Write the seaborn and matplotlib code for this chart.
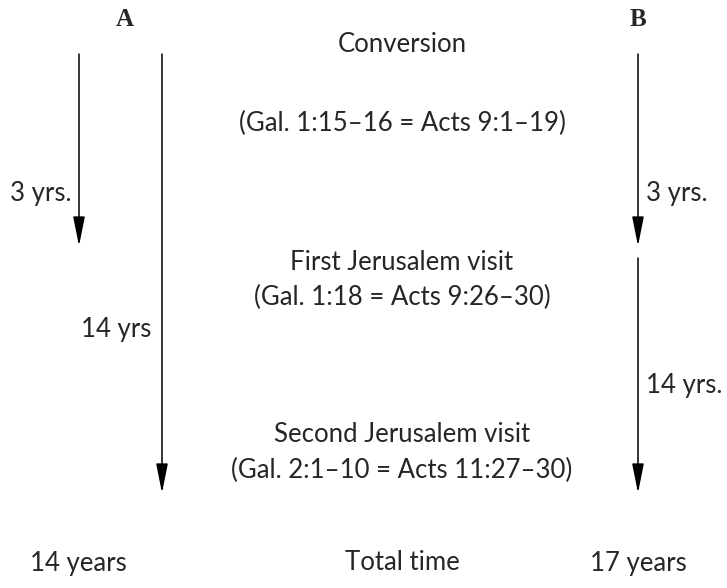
import matplotlib
matplotlib.use("Agg")
import matplotlib.pyplot as plt
import seaborn as sns

# chronology columns
columns = ["A", "B"]
totals = ["14 years", "17 years"]
centre_total = "Total time"

# events in the middle column
events = ["Conversion", "First Jerusalem visit", "Second Jerusalem visit"]
refs = ["(Gal. 1:15\u201316 = Acts 9:1\u201319)",
        "(Gal. 1:18 = Acts 9:26\u201330)",
        "(Gal. 2:1\u201310 = Acts 11:27\u201330)"]

# intervals per column
a_intervals = ["3 yrs.", "14 yrs"]
b_intervals = ["3 yrs.", "14 yrs."]

sns.set_theme(style="white")
plt.rcParams['font.family'] = ['Lato', 'DejaVu Sans']

fig = plt.figure(figsize=(7.27, 5.88), dpi=100)
ax = fig.add_axes([0, 0, 1, 1])
ax.set_xlim(0, 727)
ax.set_ylim(588, 0)
ax.axis("off")

fs = 18.5
col_x = {"A": 125, "B": 638}
for c in columns:
    ax.text(col_x[c], 20, c, ha="center", va="center", fontsize=18,
            fontweight="bold", family=["Liberation Serif"])

arrow = dict(arrowstyle="-|>,head_length=0.9,head_width=0.18", color="black",
             lw=1.1, shrinkA=0, shrinkB=0, mutation_scale=20)


def draw_arrow(x, y0, y1):
    ax.annotate("", xy=(x, y1), xytext=(x, y0), arrowprops=arrow)


# column A
draw_arrow(79, 54, 246)
ax.text(71, 193, a_intervals[0], ha="right", va="center", fontsize=fs)
draw_arrow(162, 54, 493)
ax.text(151, 330, a_intervals[1], ha="right", va="center", fontsize=fs)

# column B
draw_arrow(638, 54, 246)
ax.text(646, 193, b_intervals[0], ha="left", va="center", fontsize=fs)
draw_arrow(638, 258, 493)
ax.text(646, 386, b_intervals[1], ha="left", va="center", fontsize=fs)

# middle column
cx = 402
event_y = [44, 262, 435]
ref_y = [123, 297, 470]
for name, ref, ey, ry in zip(events, refs, event_y, ref_y):
    ax.text(cx, ey, name, ha="center", va="center", fontsize=fs)
    ax.text(cx, ry, ref, ha="center", va="center", fontsize=fs)

# totals
ax.text(78, 563, totals[0], ha="center", va="center", fontsize=fs)
ax.text(cx, 563, centre_total, ha="center", va="center", fontsize=fs)
ax.text(638, 563, totals[1], ha="center", va="center", fontsize=fs)

fig.savefig("out.png", dpi=100, facecolor="white")
